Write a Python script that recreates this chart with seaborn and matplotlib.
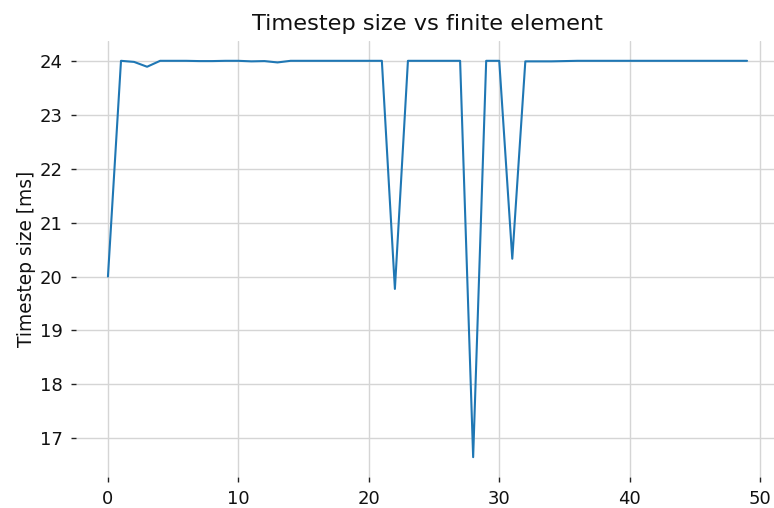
import matplotlib
matplotlib.use("Agg")
import matplotlib.pyplot as plt
import seaborn as sns
import pandas as pd

elements = list(range(50))
timestep_ms = [
    20.0, 24.0, 23.98, 23.89, 24.0, 24.0, 24.0, 23.995, 23.995, 24.0,
    24.0, 23.99, 23.995, 23.97, 24.0, 24.0, 24.0, 24.0, 24.0, 24.0,
    24.0, 24.0, 19.77, 24.0, 24.0, 24.0, 24.0, 24.0, 16.65, 24.0,
    24.0, 20.33, 23.99, 23.99, 23.99, 23.995, 24.0, 24.0, 24.0, 24.0,
    24.0, 24.0, 24.0, 24.0, 24.0, 24.0, 24.0, 24.0, 24.0, 24.0,
]
title = "Timestep size vs finite element"
ylabel = "Timestep size [ms]"

df = pd.DataFrame({"element": elements, "dt": timestep_ms})

sns.set_theme(style="whitegrid")
plt.rcParams["font.family"] = ["DejaVu Sans"]

fig = plt.figure(figsize=(7.74, 5.08), dpi=100)
ax = fig.add_axes([76 / 774, 31 / 508, (779 - 76) / 774, (477 - 41) / 508])

sns.lineplot(data=df, x="element", y="dt", ax=ax, color="#1f77b4", linewidth=1.5)

for s in ax.spines.values():
    s.set_visible(False)
ax.grid(True, color="#d5d5d5", linewidth=1)
ax.tick_params(axis="both", which="both", length=3.5, width=1, color="#222222",
               labelsize=13, labelcolor="#111111", pad=6, direction="out",
               bottom=True, left=True)
ax.set_xticks([0, 10, 20, 30, 40, 50])
ax.set_yticks([17, 18, 19, 20, 21, 22, 23, 24])
ax.set_xlim(-2.45, 51.45)
ax.set_ylim(16.2825, 24.3675)
ax.set_xlabel("")
ax.set_ylabel(ylabel, fontsize=13.4, color="#111111", labelpad=3)
ax.set_title(title, fontsize=16.2, color="#111111", pad=8)

fig.savefig("out.png", dpi=100)
